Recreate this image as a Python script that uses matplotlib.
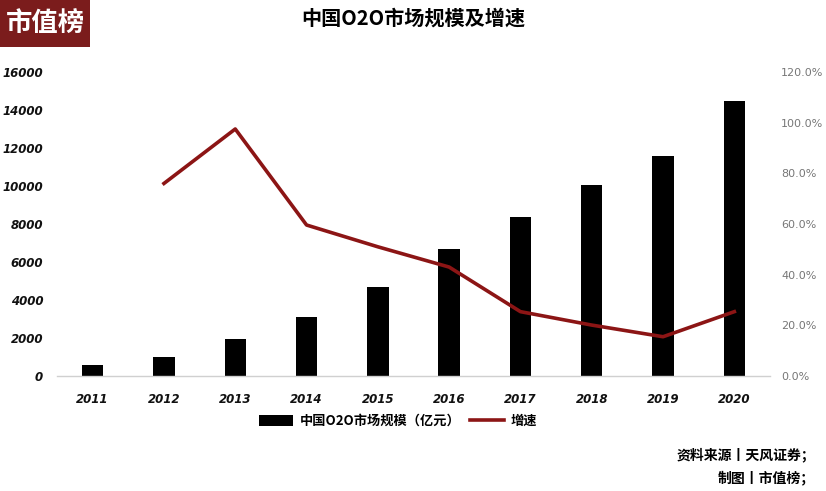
import matplotlib
matplotlib.use("Agg")
import matplotlib.pyplot as plt
from matplotlib.patches import Rectangle

plt.rcParams['font.family'] = ['Noto Sans CJK SC', 'DejaVu Sans']

years = ['2011', '2012', '2013', '2014', '2015', '2016', '2017', '2018', '2019', '2020']
market_size = [560, 1000, 1950, 3120, 4700, 6680, 8380, 10050, 11580, 14490]
growth = [None, 76.0, 97.5, 59.6, 51.0, 43.0, 25.4, 20.1, 15.5, 25.4]
left_ticks = [0, 2000, 4000, 6000, 8000, 10000, 12000, 14000, 16000]
right_ticks = [0, 20, 40, 60, 80, 100, 120]

fig = plt.figure(figsize=(8.26, 4.91), dpi=100)
ax = fig.add_axes([57/826, 1-376/491, (770-57)/826, (376-72)/491])
x = list(range(len(years)))
bars = ax.bar(x, market_size, width=0.30, color='black', zorder=2)
ax.set_xlim(-0.5, len(years)-0.5)
ax.set_ylim(0, 16000)
ax.set_yticks(left_ticks)
ax.set_yticklabels([str(t) for t in left_ticks], fontstyle='italic', fontweight='bold',
                   fontsize=8.5, color='#111111', family=['DejaVu Sans'])
ax.set_xticks(x)
ax.set_xticklabels(years, fontstyle='italic', fontweight='bold', fontsize=8.5,
                   color='#111111', family=['DejaVu Sans'])
ax.tick_params(axis='both', length=0, pad=10)
ax.tick_params(axis='x', pad=12)
for s in ['top', 'right', 'left']:
    ax.spines[s].set_visible(False)
ax.spines['bottom'].set_color('#d0d0d0')
ax.spines['bottom'].set_linewidth(1)

ax2 = ax.twinx()
gx = [xi for xi, g in zip(x, growth) if g is not None]
gy = [g for g in growth if g is not None]
line, = ax2.plot(gx, gy, color='#8c1515', linewidth=2.6, zorder=3)
ax2.set_ylim(0, 120)
ax2.set_yticks(right_ticks)
ax2.set_yticklabels([f'{t:.1f}%' for t in right_ticks], fontsize=8, color='#777777',
                    family=['DejaVu Sans'])
ax2.tick_params(axis='y', length=0, pad=8)
for s in ['top', 'right', 'left', 'bottom']:
    ax2.spines[s].set_visible(False)

# Title
fig.text(413/826, 1-18/491, '中国O2O市场规模及增速', ha='center', va='center',
         fontsize=14.5, fontweight='bold', color='black')

# Logo
fig.patches.append(Rectangle((0, 1-47/491), 90/826, 47/491, transform=fig.transFigure,
                             facecolor='#7b1c1c', edgecolor='none'))
fig.text(45/826, 1-24/491, '市值榜', ha='center', va='center', fontsize=19,
         fontweight='bold', color='white')

# Legend
leg = fig.legend([bars, line], ['中国O2O市场规模（亿元）', '增速'],
                 loc='center', bbox_to_anchor=(398/826, 1-421/491), ncol=2, frameon=False,
                 fontsize=9.5, handlelength=2.6, handleheight=0.9, columnspacing=0.7,
                 handletextpad=0.5)
for t in leg.get_texts():
    t.set_fontweight('bold')

# Source
fig.text(815/826, 1-455/491, '资料来源丨天风证券；', ha='right', va='center',
         fontsize=10, fontweight='bold', color='black')
fig.text(815/826, 1-478/491, '制图丨市值榜；', ha='right', va='center',
         fontsize=10, fontweight='bold', color='black')

fig.savefig('out.png', dpi=100)
